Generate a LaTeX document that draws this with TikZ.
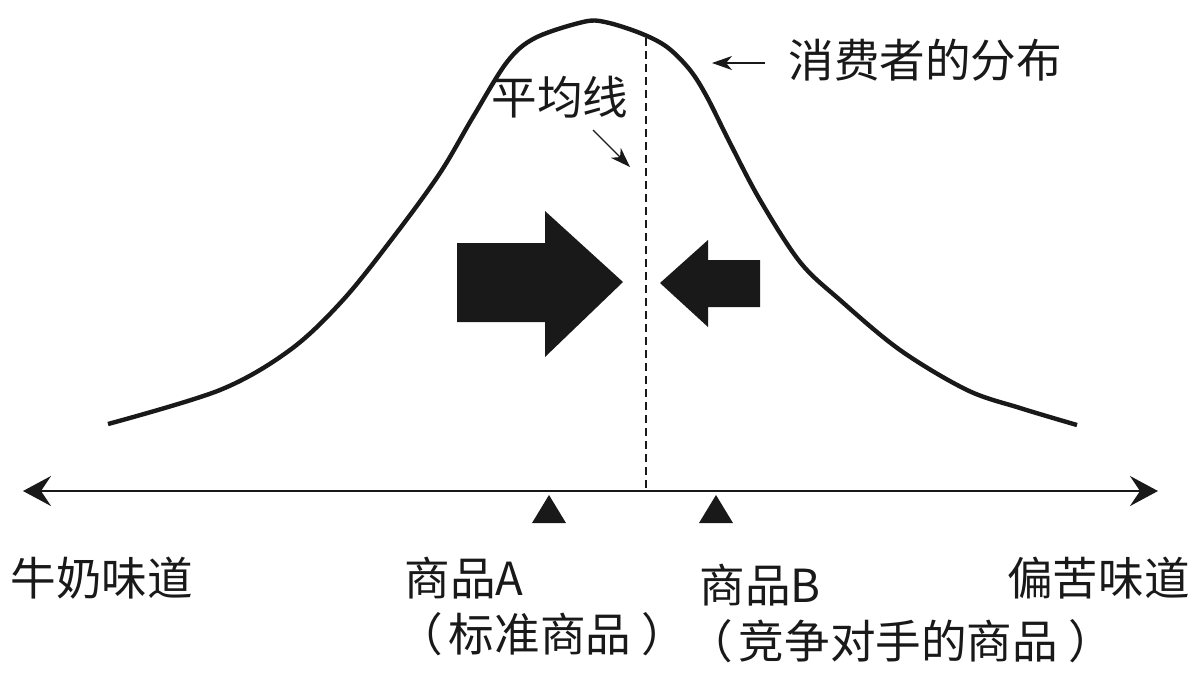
\documentclass[tikz,border=0pt]{standalone}
\usepackage{fontspec}
\setmainfont{Noto Sans CJK SC}
\usetikzlibrary{arrows.meta}
\tikzset{
  lbl/.style={font=\fontsize{22.8pt}{27pt}\selectfont, inner sep=0pt, text=black!90},
  curveline/.style={line width=2.2pt, black!90},
  axisline/.style={line width=1.1pt, black!90, {Stealth[length=14pt,width=15pt,inset=5pt]}-{Stealth[length=14pt,width=15pt,inset=5pt]}},
  thinarrow/.style={line width=0.6pt, black!90, -{Stealth[length=10pt,width=7pt,inset=3pt]}},
  bigarrow/.style={fill=black!90},
  tri/.style={fill=black!90},
}
\begin{document}
\begin{tikzpicture}[x=0.5pt,y=-0.5pt]
\useasboundingbox (0,0) rectangle (1200,677);
% distribution curve
\draw[curveline] plot[smooth, tension=0.55] coordinates {
 (108,424) (220,390) (290,350) (343,300) (395,235) (440,173) (473,117) (507,62)
 (535,38) (583,22) (605,22) (640,33) (667,47) (690,70) (707,97) (730,143)
 (760,200) (800,262) (840,300) (900,350) (967,390) (1020,408) (1077,425)};
% axis
\coordinate (axL) at (23,491);
\coordinate (axR) at (1158,491);
\draw[axisline] (axL) -- (axR);
% mean line
\coordinate (meanTop) at (646,38);
\coordinate (meanBot) at (646,491);
\draw[line width=0.8pt, black!90, dash pattern=on 4pt off 2.5pt] (meanTop) -- (meanBot);
% label 平均线
\node[lbl] (mean) at (560,97) {平均线};
\coordinate (meanA1) at (593,130);
\coordinate (meanA2) at (630,167);
\draw[thinarrow] (meanA1) -- (meanA2);
% label 消费者的分布
\node[lbl, anchor=west] (dist) at (788,60) {消费者的分布};
\coordinate (distA1) at (765,63);
\coordinate (distA2) at (712,63);
\draw[thinarrow] (distA1) -- (distA2);
% big right arrow
\fill[bigarrow] (457,243) -- (545,243) -- (545,211) -- (623,282) -- (545,357) -- (545,322) -- (457,322) -- cycle;
% left arrow
\fill[bigarrow] (760,260) -- (708,260) -- (708,240) -- (660,283) -- (708,327) -- (708,307) -- (760,307) -- cycle;
% triangles
\fill[tri] (549,495) -- (566,523) -- (532,523) -- cycle;
\fill[tri] (716,495) -- (733,523) -- (699,523) -- cycle;
% bottom labels
\node[lbl, anchor=west] (milk) at (10,578) {牛奶味道};
\node[lbl, anchor=east] (bitter) at (1190,578) {偏苦味道};
\node[lbl, anchor=west] (prodA) at (404,578) {商品A};
\node[lbl, anchor=west] (prodAsub) at (397,634) {（\hspace{3pt}标准商品\hspace{5pt}）};
\node[lbl, anchor=west] (prodB) at (699,585) {商品B};
\node[lbl, anchor=west] (prodBsub) at (687,641) {（\hspace{3pt}竞争对手的商品\hspace{5pt}）};
\end{tikzpicture}
\end{document}
